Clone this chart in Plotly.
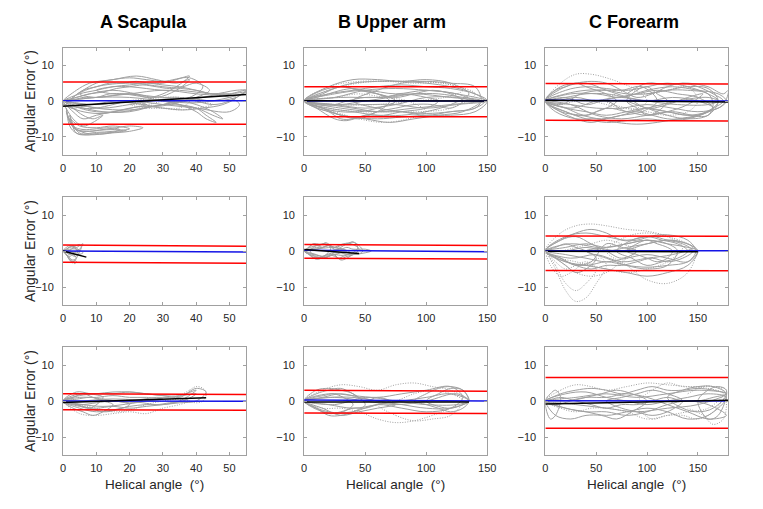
import plotly.graph_objects as go

# ---------------- data ----------------
COLS = ["A", "B", "C"]
COL_TITLES = ["A Scapula", "B Upper arm", "C Forearm"]
X_RANGES = {"A": [0, 55], "B": [0, 150], "C": [0, 180]}
X_TICKS = {"A": [0, 10, 20, 30, 40, 50], "B": [0, 50, 100, 150], "C": [0, 50, 100, 150]}
Y_RANGE = [-15, 15]
Y_TICKS = [-10, 0, 10]

# gray trial curves: (helical angle, angular error)
A1_solid = [
    ([0, 5, 10, 15, 20, 25, 30, 35, 40, 45, 50, 55, 50, 40, 30, 20, 10, 5, 0], [0, 2, 3, 4, 4.5, 5, 4.5, 4, 3, 2, 2, 2.5, 1, -0.5, 0, 1, 1, 0.5, 0]),
    ([1, 3, 6, 10, 15, 20, 25, 30, 38, 42, 38, 30, 20, 12, 6, 3, 1], [-1, 1, 3, 5, 6, 6.5, 6, 5.5, 6.5, 4, 1, 0.5, -1, -2, -1.5, -2, -1]),
    ([1, 2, 4, 8, 12, 16, 20, 24, 20, 14, 8, 4, 2, 1], [-2, -6, -8, -8.5, -8, -7.5, -7, -7.5, -8.5, -9, -9.5, -9, -7, -2]),
    ([2, 5, 10, 15, 20, 15, 10, 5, 2], [-5, -7, -7.5, -7, -7.8, -8.5, -8.8, -9, -5]),
    ([1, 3, 6, 10, 14, 17, 14, 10, 6, 3, 1], [-3, -7, -8, -7.8, -7.5, -8, -9, -9.3, -8.8, -7, -3]),
    ([2, 4, 7, 11, 15, 19, 15, 11, 7, 4, 2], [-4, -8, -8.5, -8.2, -8, -8.3, -8.8, -9, -9.5, -9, -4]),
    ([0, 5, 10, 20, 30, 35, 40, 45, 48, 45, 40, 30, 20, 10, 5, 0], [0, -1, -2, -2.5, -1, 0, -1, -3, -5, -4, -2, -1, -3, -3, -2, 0]),
    ([5, 10, 20, 30, 40, 45, 52, 55, 52, 45, 40, 30, 20, 10, 5], [2, 4, 5, 4, 3, 2, 3, 3, 1, 0, 0.5, 0, 2, 1, 2]),
    ([0, 4, 8, 15, 22, 28, 34, 38, 34, 28, 22, 15, 8, 4, 0], [0, 3, 5, 6, 7, 6, 5, 6, 3, 1, 2, 3, 2, 1, 0]),
    ([0, 10, 20, 30, 40, 50, 53, 50, 40, 30, 20, 10, 0], [0, 1, 2, 3, 2, 1, -1, -3, -2, -1, 0, -1, 0]),
    ([0, 3, 6, 10, 15, 20, 25, 20, 15, 10, 6, 3, 0], [0, -3, -5, -4, -3, -2, -1, 0, -1, -2, -2, -1, 0]),
    ([0, 4, 8, 12, 16, 20, 24, 28, 32, 36, 40, 44, 40, 36, 32, 28, 24, 20, 16, 12, 8, 4, 0], [0, 1, 2, 2.5, 3.5, 4, 4.5, 4, 3.5, 4, 5, 3, 1, 0, -1, -1.5, -1, -0.5, 0, -0.5, -1, -0.5, 0]),
    ([2, 6, 10, 14, 18, 22, 26, 30, 34, 38, 34, 30, 26, 22, 18, 14, 10, 6, 2], [0, 3, 4, 5, 5, 5.5, 5, 5, 6, 7, 4, 2, 1, 1.5, 2, 2, 1, 1, 0]),
    ([0, 6, 12, 18, 24, 30, 36, 42, 48, 52, 48, 42, 36, 30, 24, 18, 12, 6, 0], [-1, -2, -3, -3, -2, -1, 0, 1, 2, 1, -1, -2, -2.5, -2, -1.5, -2.5, -3.5, -3, -1]),
    ([10, 15, 20, 25, 30, 35, 40, 45, 50, 55, 50, 45, 40, 35, 30, 25, 20, 15, 10], [3, 4, 4, 3.5, 3, 3, 2.5, 2, 2, 3, 0, -1, 0, 1, 1, 1.5, 2, 2, 3]),
    ([0, 3, 6, 9, 12, 9, 6, 3, 0], [0, -2, -4, -5, -4, -6, -7, -5, 0]),
    ([30, 35, 40, 43, 46, 43, 40, 35, 30], [0, -1, -3, -5, -6, -4, -2, -1, 0]),
]
A1_dotted = [
    ([20, 25, 30, 35, 40, 45, 40, 35, 30, 25, 20], [0, -1, -2, -2.5, -2, -1, 0, 1, 1, 0.5, 0]),
    ([20, 25, 30, 35, 38, 35, 30, 25, 20], [-1, -2, -2, -2, 0, 1, 0, -1, -1]),
]
B1_solid = [
    ([0, 20, 40, 60, 80, 100, 120, 140, 148, 140, 120, 100, 80, 60, 40, 20, 0], [0, 3, 5, 5.5, 5.5, 5, 4, 2, 0, -2, -3, -3.5, -3, -3, -2, -1, 0]),
    ([0, 15, 30, 50, 70, 90, 110, 130, 145, 130, 110, 90, 70, 50, 30, 15, 0], [0, -2, -4, -5, -6, -5, -4, -3, 0, 1, 2, 2, 1, 0, -1, -1, 0]),
    ([0, 25, 50, 75, 100, 125, 150, 125, 100, 75, 50, 25, 0], [0, 2, 3, 2, 3, 2, 0, -1, -2, -1, -1, -1, 0]),
    ([0, 20, 40, 60, 80, 100, 120, 135, 120, 100, 80, 60, 40, 20, 0], [0, 4, 6, 6, 5.5, 6, 5, 2, -1, -3, -4, -4, -3, -2, 0]),
    ([0, 10, 25, 35, 50, 65, 80, 100, 110, 100, 80, 65, 50, 35, 25, 10, 0], [0, -2, -5, -5.5, -4, -4, -3, -2, 0, 1, 2, 1, 1, 0, -1, -1, 0]),
    ([0, 30, 60, 90, 120, 145, 120, 90, 60, 30, 0], [0, 1, 1, 2, 1, 0, -1, -2, -3, -2, 0]),
    ([0, 15, 30, 45, 60, 75, 60, 45, 30, 15, 0], [0, 2, 4, 3, 2, 0, -2, -3, -3, -2, 0]),
    ([0, 20, 40, 60, 80, 100, 120, 140, 150, 140, 120, 100, 80, 60, 40, 20, 0], [0, 2, 3, 4, 4.5, 4, 3.5, 2, 0, -3, -4, -4, -4.5, -5, -4.5, -3, 0]),
    ([0, 15, 30, 45, 60, 75, 90, 105, 120, 130, 120, 105, 90, 75, 60, 45, 30, 15, 0], [0, 3, 4, 3, 2, 1, 2, 3, 2, 0, -2, -1, -1, -2, -3, -5, -4, -2, 0]),
    ([0, 25, 50, 75, 100, 125, 140, 125, 100, 75, 50, 25, 0], [0, -1, -2, -1, 1, 1, 0, 2, 3, 3.5, 3, 1, 0]),
    ([0, 10, 20, 30, 40, 50, 60, 70, 60, 50, 40, 30, 20, 10, 0], [0, -2, -3, -5, -5, -4, -3, 0, 2, 3, 3.5, 3, 2, 1, 0]),
    ([40, 60, 80, 100, 120, 140, 145, 140, 120, 100, 80, 60, 40], [0, 3, 5, 5.5, 5, 4, 0, -2, -3, -4, -3, -2, 0]),
]
B1_dotted = [
    ([0, 20, 45, 70, 95, 120, 140, 120, 95, 70, 45, 20, 0], [0, 4, 5.5, 5.5, 5.5, 4.5, 2, -2, -3, -3, -3, -2, 0]),
    ([0, 25, 45, 65, 85, 100, 85, 65, 45, 25, 0], [0, -3, -5, -6, -5, -3, 0, 1, 2, 1, 0]),
    ([0, 30, 60, 90, 115, 130, 115, 90, 60, 30, 0], [0, 4, 5.5, 5, 5, 3, 1, 0, -1, -1, 0]),
]
C1_solid = [
    ([0, 20, 40, 60, 80, 100, 120, 140, 160, 170, 160, 140, 120, 100, 80, 60, 40, 20, 0], [0, 3, 4, 3.5, 3, 4, 5, 4, 2, 0, -3, -5, -5.5, -5, -5.5, -6, -5, -3, 0]),
    ([0, 10, 30, 50, 70, 90, 110, 130, 150, 165, 150, 130, 110, 90, 70, 50, 30, 10, 0], [0, -3, -5, -5, -6, -6.5, -6, -5, -4, -2, 1, 2, 3, 2, 1, 0, 1, 0, 0]),
    ([0, 25, 50, 75, 100, 125, 150, 170, 178, 170, 150, 125, 100, 75, 50, 25, 0], [0, 2, 2, 1, 3, 4, 3, 2, 0, -2, -3, -2, -1, -2, -2, -1, 0]),
    ([0, 20, 40, 60, 80, 100, 120, 140, 155, 140, 120, 100, 80, 60, 40, 20, 0], [0, 4, 5, 3, 1, -2, -1, 1, 2, -1, -3, -4, -3, -2, -4, -2, 0]),
    ([0, 15, 35, 55, 75, 95, 110, 95, 75, 55, 35, 15, 0], [0, -1, 2, 3, 3, 4, 0, -3, -4, -5, -4, -3, 0]),
    ([80, 100, 120, 140, 160, 175, 180, 175, 160, 140, 120, 100, 80], [2, 5, 4.5, 5, 4, 2, 3, -1, -3, -4, -3, -2, 0]),
    ([0, 20, 40, 60, 80, 100, 130, 160, 170, 160, 130, 100, 80, 60, 40, 20, 0], [0, 1, -1, 0, -3, -2, 0, 1, 0, -1, -1, 0, 1, 2, 2, 1, 0]),
    ([0, 15, 30, 45, 60, 75, 90, 105, 120, 135, 150, 165, 175, 165, 150, 135, 120, 105, 90, 75, 60, 45, 30, 15, 0], [0, 4, 5, 5.5, 5, 3, 1, 2, 4, 5, 4, 2, 0, -2, -4, -5, -5, -4, -3, -4, -5, -6, -5, -3, 0]),
    ([0, 20, 40, 60, 80, 100, 120, 140, 160, 165, 160, 140, 120, 100, 80, 60, 40, 20, 0], [0, -2, -3, -4, -3, -2, -3, -4, -4, -1, 2, 3, 3, 2, 2, 3, 3, 2, 0]),
    ([0, 10, 20, 30, 40, 50, 60, 70, 60, 50, 40, 30, 20, 10, 0], [0, 3, 4, 5, 4, 3, 2, 0, -2, -3, -4, -4, -3, -2, 0]),
    ([80, 90, 100, 110, 120, 110, 100, 90, 80], [0, 3, 4, 2, 0, -3, -4, -2, 0]),
    ([100, 120, 140, 160, 170, 160, 140, 120, 100], [2, 3, 4, 3.5, 0, -4, -5, -4, -2]),
    ([0, 25, 50, 75, 100, 125, 150, 165, 150, 125, 100, 75, 50, 25, 0], [0, -1, -4, -5, -4, -3, -4, -2, 0, 1, 0, 1, 0, -2, 0]),
]
C1_dotted = [
    ([0, 15, 30, 45, 60, 75, 90, 100, 90, 75, 60, 45, 30, 15, 0], [0, 5, 7.5, 7.5, 6.5, 5, 3, 0, -2, -2, -1, 0, 0, -1, 0]),
    ([60, 80, 100, 120, 140, 150, 140, 120, 100, 80, 60], [0, 3, 2, 3, 4, 0, -3, -4, -3, -2, 0]),
]
A2_solid = [
    ([0, 1, 2, 3, 4, 5, 5.5, 5, 4, 3, 2, 1, 0], [0, 0.5, 1, 1.2, 1.5, 1.8, 1, 0, -0.5, -0.3, 0, -0.2, 0]),
    ([0, 1, 2, 3, 3.5, 4, 3.5, 3, 2, 1, 0], [0, -1, -2, -3, -3.5, -3, -2.5, -3.3, -2.5, -1, 0]),
    ([0.5, 1.5, 2.5, 3.5, 4.5, 5, 4.5, 3.5, 2.5, 1.5, 0.5], [0, -0.5, -1, -1.5, -1, 0, 0.5, 1, 0.5, 0, 0]),
    ([0, 1, 2, 3, 4, 4.5, 4, 3, 2, 1, 0], [0, 1, 1.5, 1, 0.5, -1, -2, -2.5, -2, -1, 0]),
    ([0, 2, 4, 6, 4, 2, 0], [0, -0.5, -1, -0.5, 0.5, 0.5, 0]),
    ([0, 1, 2, 3, 4, 5, 6, 5, 4, 3, 2, 1, 0], [0, 0.5, 1.2, 1.5, 1, 1.5, 2, 0.5, 0, -0.5, -1, -0.5, 0]),
    ([0, 1, 2, 3, 4, 3, 2, 1, 0], [0, -1, -2.5, -3, -2, -1, -1.5, -1, 0]),
]
A2_dotted = []
B2_solid = [
    ([0, 5, 10, 15, 20, 25, 30, 35, 40, 45, 40, 35, 30, 25, 20, 15, 10, 5, 0], [0, 1, 1.5, 2, 1.8, 1, 1.5, 2.2, 1.8, 0.5, -1, -1.5, -2.2, -1.5, -1, -1.5, -2, -1, 0]),
    ([0, 5, 10, 15, 20, 25, 30, 35, 40, 45, 50, 55, 50, 45, 40, 35, 30, 25, 20, 15, 10, 5, 0], [0, 0.5, 0.5, 1, 1.5, 0.5, 0.5, 1, 0.5, 0.5, 0.5, 0, -0.5, -0.8, -1, -1, -0.5, -0.5, -0.8, -1.5, -1, -0.5, 0]),
    ([2, 6, 10, 14, 18, 22, 18, 14, 10, 6, 2], [0, 1.8, 2, 1.8, 2.3, 1, -1, -2, -2.3, -1.5, 0]),
    ([25, 30, 35, 40, 45, 48, 45, 40, 35, 30, 25], [0, 1, 2, 2.5, 1.5, 0, -0.8, -1, -2, -2.5, -1]),
    ([0, 8, 16, 24, 32, 38, 32, 24, 16, 8, 0], [0, -1, -1.5, -1, -1.2, -0.5, 0.5, 1, 0.8, 0.5, 0]),
    ([5, 10, 15, 20, 25, 20, 15, 10, 5], [0, 1.5, 1, 1.5, 0, -1.5, -2, -1.8, 0]),
    ([0, 4, 8, 12, 16, 20, 24, 28, 32, 36, 40, 44, 40, 36, 32, 28, 24, 20, 16, 12, 8, 4, 0], [0, 1, 2, 1.5, 2, 1.5, 1, 1.5, 2, 2, 2.5, 1, -0.5, -1, -1.5, -2, -1, -1.5, -2, -1.8, -2, -1, 0]),
    ([0, 5, 10, 15, 20, 25, 30, 35, 30, 25, 20, 15, 10, 5, 0], [0, -1, -1.5, -2, -1.5, -1, -0.5, 0, 0.5, 1, 1.5, 1, 1, 0.5, 0]),
]
B2_dotted = []
C2_solid = [
    ([0, 20, 40, 60, 80, 100, 120, 140, 148, 140, 120, 100, 80, 60, 40, 20, 0], [0, 4, 5, 4, 3, 4, 4.5, 3, 0, -3, -4, -4.5, -4, -3, -4, -3, 0]),
    ([0, 20, 40, 60, 80, 100, 120, 140, 150, 140, 120, 100, 80, 60, 40, 20, 0], [0, -3, -4, -5, -6, -7, -6, -4, 0, 2, 3, 2, 1, 0, 1, 0, 0]),
    ([0, 25, 50, 75, 100, 125, 145, 125, 100, 75, 50, 25, 0], [0, 2, 1, 0, 2, 3, 1, -1, -2, -3, -1, -2, 0]),
    ([0, 15, 30, 45, 60, 75, 90, 75, 60, 45, 30, 15, 0], [0, 3, 4, 2, 0, -2, 0, 1, 2, -3, -4, -2, 0]),
    ([70, 85, 100, 115, 130, 140, 130, 115, 100, 85, 70], [0, 3, 4, 3, 2, 0, -2, -3, -4, -2, 0]),
    ([0, 15, 30, 45, 60, 75, 90, 105, 120, 135, 145, 135, 120, 105, 90, 75, 60, 45, 30, 15, 0], [0, 3, 5, 6, 5, 3, 3, 4, 3, 2, 0, -2, -3, -2, -3, -4, -4, -5, -4, -2, 0]),
    ([0, 20, 40, 60, 80, 100, 120, 140, 150, 140, 120, 100, 80, 60, 40, 20, 0], [0, -1, -2, -3, -2, -1, -2, -3, 0, 1, 2, 3, 2, 1, 2, 1, 0]),
    ([40, 60, 80, 100, 120, 130, 120, 100, 80, 60, 40], [0, -2, -4, -5, -4, 0, 2, 3, 2, 1, 0]),
    ([0, 10, 20, 30, 40, 50, 40, 30, 20, 10, 0], [0, -2, -4, -6, -5, -2, 0, 1, 2, 1, 0]),
    ([80, 90, 100, 110, 120, 125, 120, 110, 100, 90, 80], [0, 2, 3, 2, 1, 0, -2, -3, -2, -1, 0]),
]
C2_dotted = [
    ([0, 15, 30, 45, 60, 80, 100, 120, 135, 120, 100, 80, 60, 45, 30, 15, 0], [0, 5, 7, 7.5, 7, 6, 5.5, 4, 1, -3, -5, -6, -5, -4, -3, -2, 0]),
    ([0, 10, 20, 30, 40, 50, 60, 55, 45, 35, 25, 15, 5, 0], [0, -5, -11, -14, -13, -9, -4, -2, -3, -4, -6, -7, -4, 0]),
    ([0, 10, 20, 30, 40, 50, 40, 30, 20, 10, 0], [0, -4, -9, -11, -9, -5, -3, -4, -5, -3, 0]),
    ([60, 80, 100, 120, 140, 148, 140, 120, 100, 80, 60], [0, -4, -8, -9, -6, 0, 2, 4, 5, 4, 0]),
    ([0, 15, 30, 45, 60, 75, 90, 75, 60, 45, 30, 15, 0], [0, -3, -6, -7, -6, -3, 0, 2, 3, 2, 1, 0, 0]),
]
A3_solid = [
    ([0, 5, 10, 15, 20, 25, 30, 35, 40, 43, 40, 35, 30, 25, 20, 15, 10, 5, 0], [0, 1.5, 2, 2.5, 2.5, 2, 1.5, 1, 3.5, 2.5, 0, -0.5, -1, -1.5, -2, -1.5, -2, -1.5, 0]),
    ([0, 3, 6, 9, 12, 15, 12, 9, 6, 3, 0], [0, 1, 2, 1, 0, -1, -3, -4, -3, -2, 0]),
    ([0, 5, 10, 15, 20, 25, 30, 25, 20, 15, 10, 5, 0], [0, 1, 1, 1.5, 1, 1, 0.5, 0, -0.5, 0, -0.5, -1, 0]),
    ([0, 4, 8, 12, 8, 4, 0], [0, 2.5, 2, 1, -2, -1, 0]),
    ([0, 6, 12, 18, 24, 18, 12, 6, 0], [0, -1, -1.5, -1, 0, 0.5, 0.5, 0, 0]),
    ([0, 5, 10, 15, 20, 25, 30, 35, 40, 35, 30, 25, 20, 15, 10, 5, 0], [0, 2, 2, 2, 2.5, 2, 1.5, 1.5, 3, 0, -1, -1, -1.5, -2.5, -3, -2, 0]),
    ([0, 4, 8, 12, 16, 20, 16, 12, 8, 4, 0], [0, -1, -2, -3, -2.5, -1, 0, 0.5, 1, 0.5, 0]),
    ([20, 24, 28, 32, 36, 40, 36, 32, 28, 24, 20], [0, 0.5, 1, 1, 1.5, 2, 0, -0.5, -1, -0.5, 0]),
]
A3_dotted = [
    ([0, 5, 10, 15, 20, 25, 30, 35, 38, 35, 30, 25, 20, 15, 10, 5, 0], [0, -1, -2, -3, -2.5, -1, 0, 0.5, 0, -1, -2, -3.5, -3, -3.5, -4, -3.5, 0]),
    ([35, 38, 40, 42, 43, 42, 40, 38, 35], [1, 3, 4, 3.5, 2, 0, -0.5, 0, 1]),
]
B3_solid = [
    ([0, 10, 20, 30, 40, 50, 40, 30, 20, 10, 0], [0, 3, 3.5, 3, 2, -1, -3, -4, -4, -2, 0]),
    ([0, 20, 40, 60, 80, 100, 120, 130, 120, 100, 80, 60, 40, 20, 0], [0, 2, 1.5, 1, 2, 3, 4, 1, -2, -3, -2, -1, -3, -3, 0]),
    ([0, 15, 30, 45, 60, 75, 60, 45, 30, 15, 0], [0, -2, -4, -3, -2, -1, 0, 1, 2, 1, 0]),
    ([0, 25, 50, 75, 100, 125, 135, 125, 100, 75, 50, 25, 0], [0, 1, 0, -1, 0, 2, 0, -1, -1, 0, 1, -1, 0]),
    ([100, 110, 120, 130, 135, 130, 120, 110, 100], [0, 2, 3.5, 3, 0, -1, -2, -1.5, 0]),
    ([0, 10, 20, 30, 40, 50, 60, 70, 60, 50, 40, 30, 20, 10, 0], [0, 2, 3, 3.5, 2, 0, 1, 0, -1, -2, -2, -3, -3.5, -2, 0]),
    ([0, 20, 40, 60, 80, 100, 120, 135, 120, 100, 80, 60, 40, 20, 0], [0, -1, -2, -1, 0, 1, 2, 0, -2, -2, -1, 0, 1, 1, 0]),
    ([90, 100, 110, 120, 130, 135, 130, 120, 110, 100, 90], [0, 2, 3.5, 4, 3, 0, -2, -3, -2, -1, 0]),
    ([0, 8, 16, 24, 32, 40, 32, 24, 16, 8, 0], [0, -2, -3, -3.5, -3, -1, 1, 2, 1.5, 1, 0]),
]
B3_dotted = [
    ([0, 15, 30, 45, 60, 75, 90, 105, 120, 135, 120, 105, 90, 75, 60, 45, 30, 15, 0], [0, 3, 4.5, 4, 3, 4.5, 5, 4, 3, 0, -2, -4, -5.5, -6, -5, -3, -2, -2, 0]),
    ([60, 75, 90, 105, 120, 130, 120, 105, 90, 75, 60], [-1, -4, -5.5, -5, -4, 0, 2, 3, 2, 0, -1]),
]
C3_solid = [
    ([0, 10, 25, 40, 55, 70, 85, 100, 85, 70, 55, 40, 25, 10, 0], [0, -4, -5, -4, -4, -5, -3, 0, 2, 3, 2, 1, 0, -1, 0]),
    ([0, 30, 60, 90, 120, 150, 178, 150, 120, 90, 60, 30, 0], [0, 1, 2, 1, 2, 3, 2, -1, -2, -3, -2, -1, 0]),
    ([0, 20, 40, 60, 80, 100, 120, 140, 160, 178, 160, 140, 120, 100, 80, 60, 40, 20, 0], [0, 2, 2.5, 1, 0, -1, 0, 1, 2, 1, -4, -5, -3, -2, -3, -4, -3, -2, 0]),
    ([0, 5, 10, 15, 10, 5, 0], [0, 2, 3, 1, -4, -5, 0]),
    ([120, 135, 150, 165, 178, 165, 150, 135, 120], [1, 3, 4, 4, 2, -2, -3, -2, 1]),
    ([0, 20, 40, 60, 80, 100, 120, 140, 160, 178, 160, 140, 120, 100, 80, 60, 40, 20, 0], [0, -2, -3, -3, -4, -3, -1, 0, -1, -4, -5, -3, -1, 1, 2, 1, 1, 0, 0]),
    ([0, 15, 30, 45, 60, 75, 90, 105, 120, 135, 150, 165, 178, 165, 150, 135, 120, 105, 90, 75, 60, 45, 30, 15, 0], [0, 2, 3, 3.5, 3, 2, 3, 4, 3, 3, 3.5, 3, 2, 1, 0, 0, 1, 0, -1, -1, -2, -1, 0, 1, 0]),
    ([60, 75, 90, 105, 120, 135, 120, 105, 90, 75, 60], [0, -2, -3, -4, -3, 0, 2, 3, 2, 1, 0]),
    ([150, 160, 170, 178, 170, 160, 150], [0, 3, 4, 3, -4, -5, 0]),
]
C3_dotted = [
    ([0, 15, 30, 45, 60, 80, 100, 120, 140, 160, 175, 160, 140, 120, 100, 80, 60, 45, 30, 15, 0], [0, 3, 4.5, 4, 3, 4, 5, 4.5, 4, 3.5, 2, -2, -3, -4, -5, -3, -2, -2, -3, -2, 0]),
    ([90, 105, 120, 135, 150, 165, 178, 165, 150, 135, 120, 105, 90], [0, 3, 5, 4, 4, 4, 3, -3, -5, -4, -4, -5, -2]),
    ([140, 155, 165, 175, 178, 175, 165, 155, 140], [2, 4, 4, 3, 0, -5, -6.5, -4, -2]),
]

# limits of agreement (start, end), bias (start, end), regression line (x0, x1, y0, y1)
A1_upper, A1_lower, A1_bias, A1_reg = [5.3, 5.3], [-6.5, -6.5], [0.1, 0.1], [0, 55, -1.5, 1.8]
B1_upper, B1_lower, B1_bias, B1_reg = [4.0, 4.0], [-4.4, -4.4], [0.0, 0.0], [0, 150, 0.1, 0.0]
C1_upper, C1_lower, C1_bias, C1_reg = [4.9, 4.8], [-5.4, -5.6], [0.2, 0.0], [0, 180, 0.2, -0.3]
A2_upper, A2_lower, A2_bias, A2_reg = [1.65, 1.3], [-3.1, -3.4], [0.0, -0.3], [0, 7, 0.0, -1.7]
B2_upper, B2_lower, B2_bias, B2_reg = [1.8, 1.5], [-2.0, -2.2], [0.2, -0.2], [0, 45, 0.4, -0.7]
C2_upper, C2_lower, C2_bias, C2_reg = [4.2, 4.1], [-5.4, -5.5], [0.1, 0.1], [0, 150, -0.1, -0.2]
A3_upper, A3_lower, A3_bias, A3_reg = [2.0, 1.8], [-2.4, -2.6], [0.0, -0.1], [0, 43, -0.4, 0.9]
B3_upper, B3_lower, B3_bias, B3_reg = [3.0, 2.7], [-3.3, -3.5], [0.3, 0.0], [0, 135, -0.3, -0.3]
C3_upper, C3_lower, C3_bias, C3_reg = [6.5, 6.5], [-7.6, -7.6], [0.1, 0.0], [0, 180, -0.8, 0.2]

PANELS = {
    "A1": (A1_solid, A1_dotted, A1_upper, A1_lower, A1_bias, A1_reg),
    "B1": (B1_solid, B1_dotted, B1_upper, B1_lower, B1_bias, B1_reg),
    "C1": (C1_solid, C1_dotted, C1_upper, C1_lower, C1_bias, C1_reg),
    "A2": (A2_solid, A2_dotted, A2_upper, A2_lower, A2_bias, A2_reg),
    "B2": (B2_solid, B2_dotted, B2_upper, B2_lower, B2_bias, B2_reg),
    "C2": (C2_solid, C2_dotted, C2_upper, C2_lower, C2_bias, C2_reg),
    "A3": (A3_solid, A3_dotted, A3_upper, A3_lower, A3_bias, A3_reg),
    "B3": (B3_solid, B3_dotted, B3_upper, B3_lower, B3_bias, B3_reg),
    "C3": (C3_solid, C3_dotted, C3_upper, C3_lower, C3_bias, C3_reg),
}

# ---------------- layout geometry ----------------
W, H = 763, 509
COL_PX = [(61, 247), (306, 492), (551, 737)]
ROW_PX = [(47.5, 154.5), (197, 305), (347, 455)]
TITLE_X = [143, 395, 641]

GRAY = "rgb(160,160,160)"
AX_COLOR = "rgb(160,160,160)"
FONT = "Arial, Liberation Sans, sans-serif"

fig = go.Figure()
layout = dict(width=W, height=H, margin=dict(l=0, r=0, t=0, b=0),
              paper_bgcolor="white", plot_bgcolor="white", showlegend=False,
              font=dict(family=FONT, color="#262626"), annotations=[])

idx = 0
for r in range(3):
    for c, col in enumerate(COLS):
        idx += 1
        key = f"{col}{r+1}"
        solid, dotted, upper, lower, bias, reg = PANELS[key]
        xa = "x" if idx == 1 else f"x{idx}"
        ya = "y" if idx == 1 else f"y{idx}"
        x0, x1 = X_RANGES[col]
        for xs, ys in solid:
            fig.add_trace(go.Scatter(x=xs, y=ys, mode="lines", xaxis=xa, yaxis=ya,
                                     line=dict(color=GRAY, width=1, shape="spline", smoothing=1),
                                     hoverinfo="skip"))
        for xs, ys in dotted:
            fig.add_trace(go.Scatter(x=xs, y=ys, mode="lines", xaxis=xa, yaxis=ya,
                                     line=dict(color=GRAY, width=1, dash="1px,1.5px", shape="spline", smoothing=1),
                                     hoverinfo="skip"))
        for lim in (upper, lower):
            fig.add_trace(go.Scatter(x=[x0, x1], y=lim, mode="lines", xaxis=xa, yaxis=ya,
                                     line=dict(color="rgb(255,0,0)", width=1.5)))
        fig.add_trace(go.Scatter(x=[x0, x1], y=bias, mode="lines", xaxis=xa, yaxis=ya,
                                 line=dict(color="rgb(20,20,230)", width=1.5)))
        fig.add_trace(go.Scatter(x=reg[:2], y=reg[2:], mode="lines", xaxis=xa, yaxis=ya,
                                 line=dict(color="black", width=1.5)))

        cl, cr = COL_PX[c]
        rt, rb = ROW_PX[r]
        axcommon = dict(showline=True, linecolor=AX_COLOR, linewidth=1, mirror="ticks",
                        ticks="inside", ticklen=3, tickcolor=AX_COLOR, showgrid=False,
                        zeroline=False, tickfont=dict(size=11, color="#262626", family=FONT))
        layout["xaxis" if idx == 1 else f"xaxis{idx}"] = dict(
            domain=[cl / W, cr / W], range=X_RANGES[col], tickvals=X_TICKS[col],
            anchor=ya, ticklabelstandoff=3, **axcommon)
        layout["yaxis" if idx == 1 else f"yaxis{idx}"] = dict(
            domain=[1 - rb / H, 1 - rt / H], range=Y_RANGE, tickvals=Y_TICKS,
            anchor=xa, ticklabelstandoff=6, **axcommon)

# column titles
for c, t in enumerate(COL_TITLES):
    layout["annotations"].append(dict(text=f"<b>{t}</b>", x=TITLE_X[c] / W, y=1 - 21.5 / H,
                                      xref="paper", yref="paper", showarrow=False,
                                      font=dict(size=18, color="black", family=FONT),
                                      xanchor="center", yanchor="middle"))
# y titles
for r in range(3):
    rt, rb = ROW_PX[r]
    layout["annotations"].append(dict(text="Angular Error (°)", x=27.5 / W, y=1 - (rt + rb) / 2 / H,
                                      xref="paper", yref="paper", showarrow=False, textangle=-90,
                                      font=dict(size=14, color="#262626", family=FONT),
                                      xanchor="center", yanchor="middle"))
# x titles
for c in range(3):
    cl, cr = COL_PX[c]
    layout["annotations"].append(dict(text="Helical angle  (°)", x=(cl + cr) / 2 / W, y=1 - 484 / H,
                                      xref="paper", yref="paper", showarrow=False,
                                      font=dict(size=13.5, color="#262626", family=FONT),
                                      xanchor="center", yanchor="middle"))

fig.update_layout(**layout)
fig.write_html("out.html", config={"displayModeBar": False},
               post_script="document.body.style.margin='0px';")
